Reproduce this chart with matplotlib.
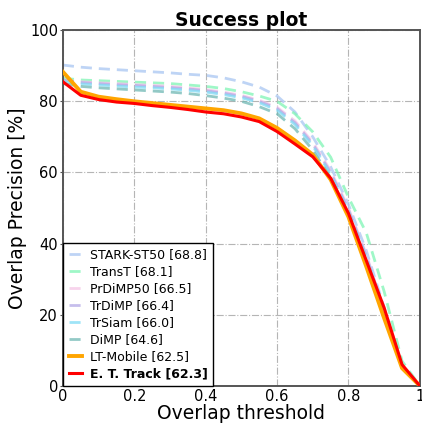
import numpy as np
import matplotlib
matplotlib.use("Agg")
import matplotlib.pyplot as plt

# overlap thresholds (x axis grid of the success plot)
thresholds = np.linspace(0, 1, 21)

trackers = ["STARK-ST50 [68.8]", "TransT [68.1]", "PrDiMP50 [66.5]", "TrDiMP [66.4]",
            "TrSiam [66.0]", "DiMP [64.6]", "LT-Mobile [62.5]", "E. T. Track [62.3]"]

stark = [90.2, 89.6, 89.2, 88.9, 88.6, 88.3, 88.0, 87.6, 87.3, 86.6, 85.5,
         84.0, 81.5, 77.0, 70.0, 61.6, 51.0, 38.0, 22.0, 5.5, 0.0]
transt = [86.5, 86.0, 85.8, 85.6, 85.4, 85.2, 85.0, 84.6, 84.2, 83.6, 82.7,
          81.5, 80.0, 76.5, 71.4, 64.3, 53.0, 43.0, 26.5, 7.0, 0.0]
prdimp = [86.0, 85.5, 85.2, 85.0, 84.7, 84.5, 84.2, 83.8, 83.3, 82.6, 81.7,
          80.3, 78.3, 74.5, 68.5, 60.5, 50.0, 37.0, 21.0, 5.0, 0.0]
trdimp = [86.0, 85.3, 85.0, 84.7, 84.5, 84.2, 83.9, 83.5, 83.0, 82.3, 81.4,
          80.0, 78.0, 74.0, 68.0, 60.0, 49.5, 36.5, 21.0, 5.0, 0.0]
trsiam = [85.6, 84.9, 84.6, 84.3, 84.0, 83.8, 83.5, 83.1, 82.6, 81.9, 81.0,
          79.6, 77.5, 73.5, 67.5, 59.5, 49.0, 36.0, 20.5, 5.0, 0.0]
dimp = [85.0, 84.2, 83.8, 83.5, 83.2, 82.9, 82.6, 82.2, 81.6, 80.9, 80.0,
        78.5, 76.5, 72.3, 66.3, 58.5, 48.0, 35.0, 20.0, 5.0, 0.0]
lt_mobile = [88.3, 82.7, 81.3, 80.6, 80.0, 79.5, 79.0, 78.5, 78.0, 77.5, 76.6,
             75.2, 72.5, 69.0, 65.0, 58.0, 47.5, 33.5, 19.0, 5.0, 0.0]
et_track = [85.5, 81.7, 80.5, 79.8, 79.4, 78.8, 78.3, 77.7, 77.0, 76.5, 75.6,
            74.3, 71.5, 68.0, 64.4, 58.4, 48.5, 35.2, 21.9, 6.0, 0.0]

series = [stark, transt, prdimp, trdimp, trsiam, dimp, lt_mobile, et_track]
colors = ["#a9c6f2", "#7ff5b5", "#f5c6e6", "#b3a9e6", "#7fdcf5", "#6fb8b4",
          "#ffa500", "#ff0000"]


def main():
    fig = plt.figure(figsize=(4.22, 4.25), dpi=100)
    ax = fig.add_axes([0.149, 0.092, 0.846, 0.837])

    for name, vals, c in zip(trackers, series, colors):
        if name.startswith("LT"):
            ax.plot(thresholds, vals, color=c, lw=2.8, ls="-", label=name, zorder=3)
        elif name.startswith("E. T."):
            ax.plot(thresholds, vals, color=c, lw=2.2, ls="-", label=name, zorder=4)
        else:
            ax.plot(thresholds, vals, color=c, lw=2.0, ls=(0, (4, 2.5)),
                    alpha=0.75, label=name, zorder=2)

    ax.set_xlim(0, 1)
    ax.set_ylim(0, 100)
    ax.set_xticks([0, 0.2, 0.4, 0.6, 0.8, 1])
    ax.set_xticklabels(["0", "0.2", "0.4", "0.6", "0.8", "1"])
    ax.set_yticks([0, 20, 40, 60, 80, 100])
    ax.tick_params(axis="x", labelsize=10.5, length=0, pad=2.5)
    ax.tick_params(axis="y", labelsize=10.5, length=2.5, pad=1, color="#555555")
    ax.grid(True, ls="-.", color="#b5b5b5", lw=0.8)
    for s in ax.spines.values():
        s.set_color("#555555")
        s.set_linewidth(1.4)

    ax.set_title("Success plot", fontsize=13.5, fontweight="bold", pad=3)
    ax.set_xlabel("Overlap threshold", fontsize=13.5, labelpad=0)
    ax.set_ylabel("Overlap Precision [%]", fontsize=13.5, labelpad=2)

    leg = ax.legend(loc="lower left", fontsize=9, fancybox=False, framealpha=1,
                    edgecolor="black", borderaxespad=0, handlelength=1.1,
                    labelspacing=0.32, borderpad=0.45, handletextpad=0.6)
    leg.get_frame().set_linewidth(1.0)
    leg.get_texts()[-1].set_fontweight("bold")

    fig.savefig("out.png", dpi=100)


if __name__ == "__main__":
    main()
